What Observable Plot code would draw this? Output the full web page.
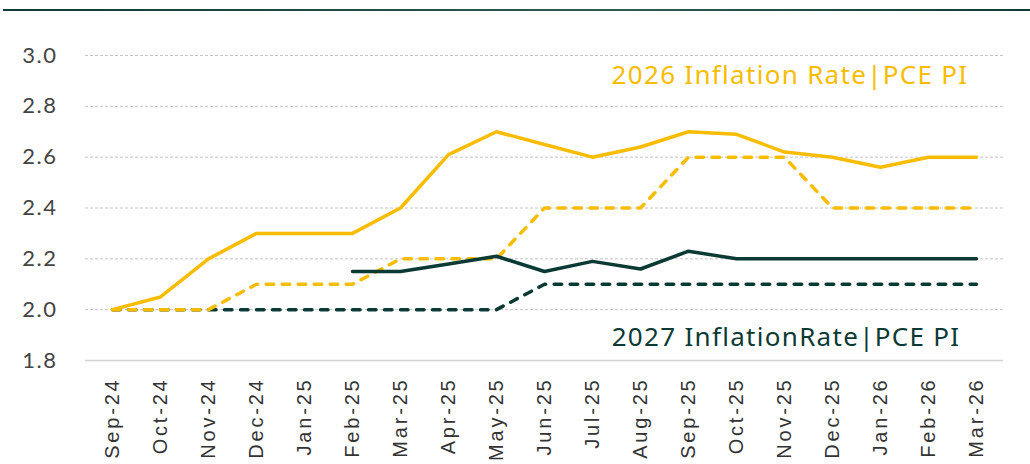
<!DOCTYPE html>
<html>
<head>
<meta charset="utf-8">
<script src="https://cdn.jsdelivr.net/npm/d3@7"></script>
<script src="https://cdn.jsdelivr.net/npm/@observablehq/plot@0.6"></script>
<style>
  html, body { margin: 0; padding: 0; background: #fff; }
  #wrap { position: relative; width: 1030px; height: 464px; overflow: hidden; }
  #rule { position: absolute; left: 3px; top: 9px; width: 1027px; height: 2px;
          background: linear-gradient(to right, #0e3b36, #2f5a55 60%, #0e3b36); }
  #chart svg g[aria-label="x-axis tick label"] text {
    font-size: 20px; font-family: "Liberation Sans", Arial, sans-serif; letter-spacing: 2.8px; fill: #333;
  }
  #chart svg g[aria-label="y-axis tick label"] text {
    font-size: 22px; font-family: Lato, "Open Sans", sans-serif; letter-spacing: 1.5px; fill: #444;
  }
  #chart svg g[aria-label="text"] text { letter-spacing: 1.3px; }
</style>
</head>
<body>
<div id="wrap"><div id="rule"></div><div id="chart"></div></div>
<script>
const months = ["Sep-24","Oct-24","Nov-24","Dec-24","Jan-25","Feb-25","Mar-25","Apr-25","May-25","Jun-25","Jul-25","Aug-25","Sep-25","Oct-25","Nov-25","Dec-25","Jan-26","Feb-26","Mar-26"];
const rate2026 = [2.0,2.05,2.2,2.3,2.3,2.3,2.4,2.61,2.7,2.65,2.6,2.64,2.7,2.69,2.62,2.6,2.56,2.6,2.6];
const pce2026  = [2.0,2.0,2.0,2.1,2.1,2.1,2.2,2.2,2.2,2.4,2.4,2.4,2.6,2.6,2.6,2.4,2.4,2.4,2.4];
const rate2027 = [null,null,null,null,null,2.15,2.15,2.18,2.21,2.15,2.19,2.16,2.23,2.2,2.2,2.2,2.2,2.2,2.2];
const pce2027  = [2.0,2.0,2.0,2.0,2.0,2.0,2.0,2.0,2.0,2.1,2.1,2.1,2.1,2.1,2.1,2.1,2.1,2.1,2.1];
const yTicks = [1.8,2.0,2.2,2.4,2.6,2.8,3.0];
const gridTicks = [2.0,2.2,2.4,2.6,2.8,3.0];
const label2026 = "2026 Inflation Rate|PCE PI";
const label2027 = "2027 InflationRate|PCE PI";

const YEL = "#F8BC00", DARK = "#0B3A34";
const mk = arr => months.map((m,i) => ({m, v: arr[i]})).filter(d => d.v != null);

const chart = Plot.plot({
  width: 1030, height: 464,
  marginTop: 55, marginBottom: 104, marginLeft: 85, marginRight: 27,
  x: {type: "point", domain: months, padding: 0.5, label: null},
  y: {domain: [1.8, 3.0], label: null},
  style: {fontFamily: "'Noto Sans', 'Open Sans', sans-serif", color: "#444"},
  marks: [
    Plot.ruleY(gridTicks, {stroke: "#c4c4c4", strokeWidth: 1, strokeDasharray: "3,2"}),
    Plot.ruleY([1.8], {stroke: "#d4d4d4", strokeWidth: 1.5}),
    Plot.axisY(yTicks, {tickSize: 0, tickPadding: 28, tickFormat: d3.format(".1f")}),
    Plot.axisX({tickSize: 0, tickPadding: 17, tickRotate: -90}),
    Plot.line(mk(pce2027), {x: "m", y: "v", stroke: DARK, strokeWidth: 3.5, strokeDasharray: "7.5,8.5", strokeLinecap: "round"}),
    Plot.line(mk(pce2026), {x: "m", y: "v", stroke: YEL, strokeWidth: 3.5, strokeDasharray: "7.5,8.5", strokeLinecap: "round"}),
    Plot.line(mk(rate2026), {x: "m", y: "v", stroke: YEL, strokeWidth: 3.5}),
    Plot.line(mk(rate2027), {x: "m", y: "v", stroke: DARK, strokeWidth: 3.5}),
    Plot.text([label2026], {frameAnchor: "top-right", dx: -35, dy: 20, textAnchor: "end", lineAnchor: "middle", fill: YEL, fontSize: 26, text: d => d}),
    Plot.text([label2027], {frameAnchor: "bottom-right", dx: -43, dy: -23, textAnchor: "end", lineAnchor: "middle", fill: DARK, fontSize: 26, text: d => d})
  ]
});
document.getElementById("chart").appendChild(chart);
</script>
</body>
</html>
